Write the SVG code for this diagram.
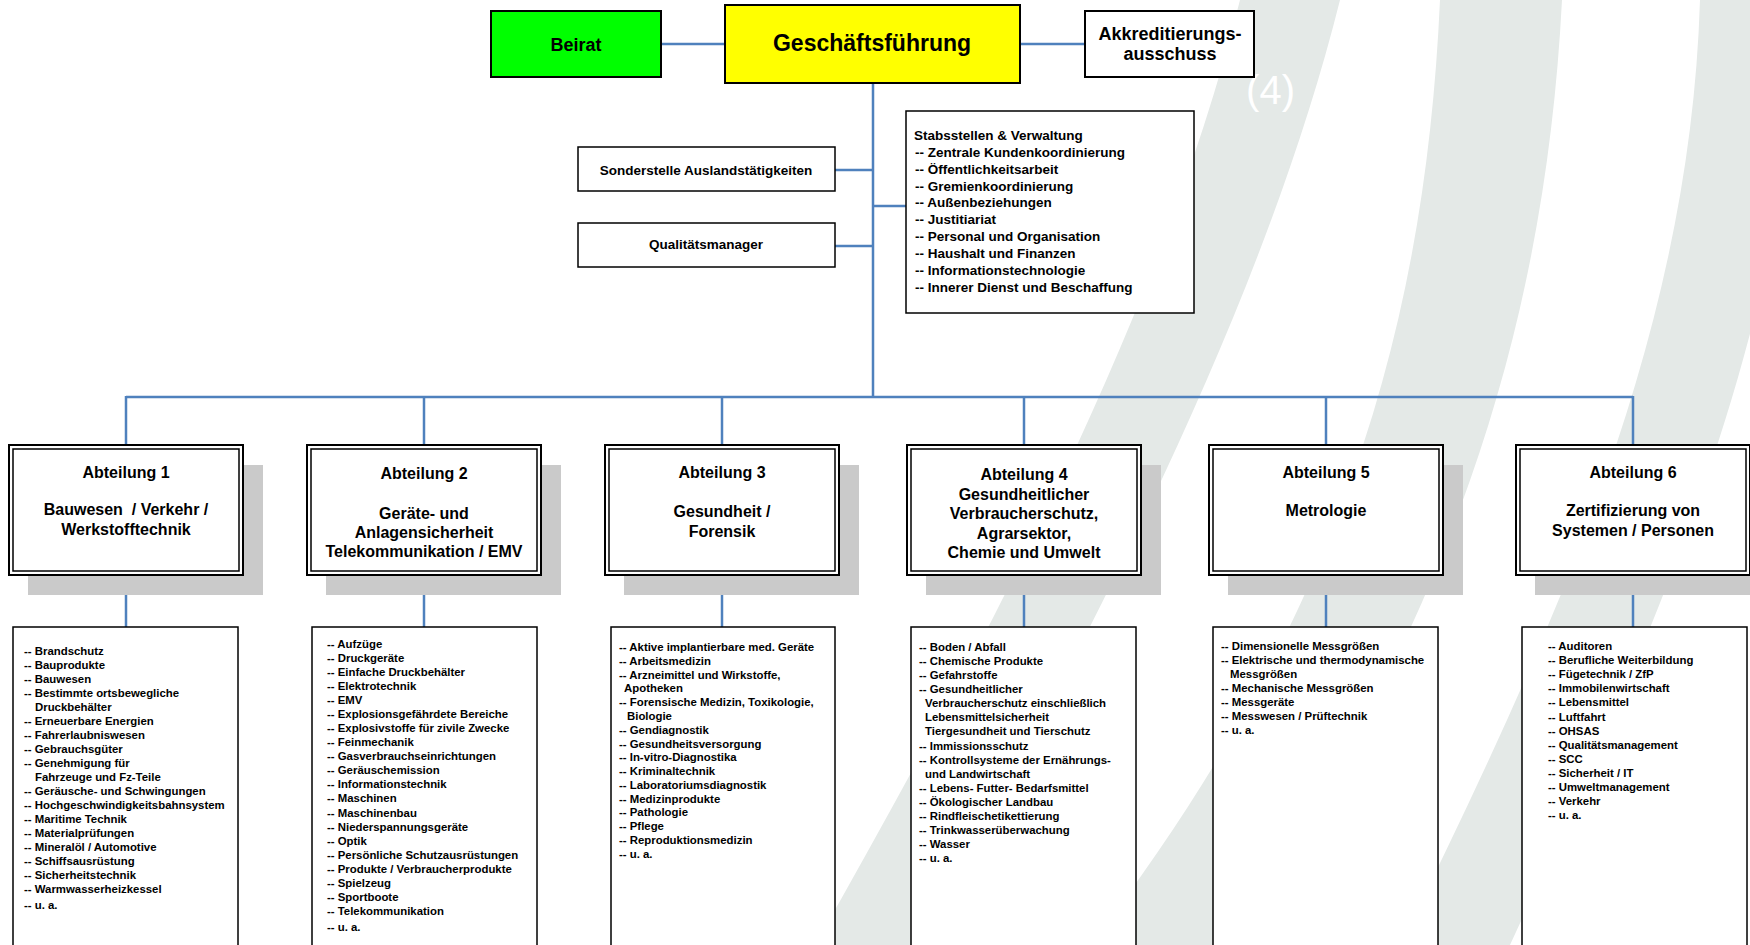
<svg xmlns="http://www.w3.org/2000/svg" width="1750" height="945" viewBox="0 0 1750 945">
<style>
text{font-family:"Liberation Sans",Arial,sans-serif;font-weight:bold;fill:#000}
.band{fill:#E4E9E7}
.conn{stroke:#4F81BD;stroke-width:2.5;fill:none}
.top{stroke:#000;stroke-width:2}
.box{fill:#fff;stroke:#000;stroke-width:1.5}
.shadow{fill:#CACACA}
.outer{fill:#fff;stroke:#000;stroke-width:2}
.inner{fill:none;stroke:#000;stroke-width:1.5}
.t18{font-size:18px;text-anchor:middle}
.t23{font-size:23px;text-anchor:middle}
.t135{font-size:13.5px}
.mid{text-anchor:middle}
.abt{font-size:16px;text-anchor:middle;white-space:pre}
.li{font-size:11.4px}
.wm{font-family:"Liberation Sans",Arial,sans-serif;font-weight:normal;font-size:40px;fill:#fff}
</style>
<rect width="1750" height="945" fill="#fff"/>
<g id="background">
<path class="band" d="M1240,0 C1165,300 1000,620 815,945 L920,945 C1100,620 1265,300 1340,0 Z"/>
<path class="band" d="M1440,0 C1425,330 1340,620 1090,945 L1230,945 C1450,620 1545,330 1562,0 Z"/>
<path class="band" d="M1700,0 C1690,330 1560,620 1400,945 L1510,945 C1660,620 1790,330 1800,0 Z"/>
<text class="wm" x="1295" y="104" text-anchor="end">(4)</text>
</g>
<g id="connectors">
<line class="conn" x1="661" y1="44" x2="725" y2="44"/>
<line class="conn" x1="1020" y1="44" x2="1085" y2="44"/>
<line class="conn" x1="873" y1="83" x2="873" y2="397"/>
<line class="conn" x1="835" y1="170" x2="873" y2="170"/>
<line class="conn" x1="835" y1="246" x2="873" y2="246"/>
<line class="conn" x1="873" y1="206" x2="906" y2="206"/>
<line class="conn" x1="126" y1="397" x2="1633" y2="397"/>
<line class="conn" x1="126" y1="396" x2="126" y2="445"/>
<line class="conn" x1="424" y1="396" x2="424" y2="445"/>
<line class="conn" x1="722" y1="396" x2="722" y2="445"/>
<line class="conn" x1="1024" y1="396" x2="1024" y2="445"/>
<line class="conn" x1="1326" y1="396" x2="1326" y2="445"/>
<line class="conn" x1="1633" y1="396" x2="1633" y2="445"/>
<line class="conn" x1="126" y1="575" x2="126" y2="627"/>
<line class="conn" x1="424" y1="575" x2="424" y2="627"/>
<line class="conn" x1="722" y1="575" x2="722" y2="627"/>
<line class="conn" x1="1024" y1="575" x2="1024" y2="627"/>
<line class="conn" x1="1326" y1="575" x2="1326" y2="627"/>
<line class="conn" x1="1633" y1="575" x2="1633" y2="627"/>
</g>
<g id="beirat">
<rect class="top" x="491" y="11" width="170" height="66" fill="#00FF00"/>
<text class="t18" x="576" y="50.5">Beirat</text>
</g>
<g id="geschaeftsfuehrung">
<rect class="top" x="725" y="5" width="295" height="78" fill="#FFFF00"/>
<text class="t23" x="872" y="51">Geschäftsführung</text>
</g>
<g id="akkreditierungsausschuss">
<rect class="top" x="1085" y="11" width="169" height="66" fill="#fff"/>
<text class="t18" x="1170" y="39.5">Akkreditierungs-</text>
<text class="t18" x="1170" y="60">ausschuss</text>
</g>
<g id="sonderstelle">
<rect class="box" x="578" y="147" width="257" height="44"/>
<text class="t135 mid" x="706" y="175">Sonderstelle Auslandstätigkeiten</text>
</g>
<g id="qualitaetsmanager">
<rect class="box" x="578" y="223" width="257" height="44"/>
<text class="t135 mid" x="706" y="249">Qualitätsmanager</text>
</g>
<g id="stabsstellen">
<rect class="box" x="906" y="111" width="288" height="202"/>
<text class="t135">
<tspan x="914" y="140">Stabsstellen &amp; Verwaltung</tspan>
<tspan x="915" y="156.9">-- Zentrale Kundenkoordinierung</tspan>
<tspan x="915" y="173.7">-- Öffentlichkeitsarbeit</tspan>
<tspan x="915" y="190.6">-- Gremienkoordinierung</tspan>
<tspan x="915" y="207.4">-- Außenbeziehungen</tspan>
<tspan x="915" y="224.3">-- Justitiariat</tspan>
<tspan x="915" y="241.1">-- Personal und Organisation</tspan>
<tspan x="915" y="258">-- Haushalt und Finanzen</tspan>
<tspan x="915" y="274.8">-- Informationstechnologie</tspan>
<tspan x="915" y="291.7">-- Innerer Dienst und Beschaffung</tspan>
</text>
</g>
<g id="abteilung1">
<rect class="shadow" x="28" y="465" width="235" height="130"/>
<rect class="outer" x="9" y="445" width="234" height="130"/>
<rect class="inner" x="13" y="449" width="226" height="122"/>
<text class="abt" x="126" y="478">Abteilung 1</text>
<text class="abt" x="126" y="515">Bauwesen  / Verkehr /</text>
<text class="abt" x="126" y="535">Werkstofftechnik</text>
</g>
<g id="abteilung2">
<rect class="shadow" x="326" y="465" width="235" height="130"/>
<rect class="outer" x="307" y="445" width="234" height="130"/>
<rect class="inner" x="311" y="449" width="226" height="122"/>
<text class="abt" x="424" y="479">Abteilung 2</text>
<text class="abt" x="424" y="519">Geräte- und</text>
<text class="abt" x="424" y="538">Anlagensicherheit</text>
<text class="abt" x="424" y="557">Telekommunikation / EMV</text>
</g>
<g id="abteilung3">
<rect class="shadow" x="624" y="465" width="235" height="130"/>
<rect class="outer" x="605" y="445" width="234" height="130"/>
<rect class="inner" x="609" y="449" width="226" height="122"/>
<text class="abt" x="722" y="478">Abteilung 3</text>
<text class="abt" x="722" y="517">Gesundheit /</text>
<text class="abt" x="722" y="537">Forensik</text>
</g>
<g id="abteilung4">
<rect class="shadow" x="926" y="465" width="235" height="130"/>
<rect class="outer" x="907" y="445" width="234" height="130"/>
<rect class="inner" x="911" y="449" width="226" height="122"/>
<text class="abt" x="1024" y="480">Abteilung 4</text>
<text class="abt" x="1024" y="499.5">Gesundheitlicher</text>
<text class="abt" x="1024" y="519">Verbraucherschutz,</text>
<text class="abt" x="1024" y="538.5">Agrarsektor,</text>
<text class="abt" x="1024" y="558">Chemie und Umwelt</text>
</g>
<g id="abteilung5">
<rect class="shadow" x="1228" y="465" width="235" height="130"/>
<rect class="outer" x="1209" y="445" width="234" height="130"/>
<rect class="inner" x="1213" y="449" width="226" height="122"/>
<text class="abt" x="1326" y="478">Abteilung 5</text>
<text class="abt" x="1326" y="516">Metrologie</text>
</g>
<g id="abteilung6">
<rect class="shadow" x="1535" y="465" width="235" height="130"/>
<rect class="outer" x="1516" y="445" width="234" height="130"/>
<rect class="inner" x="1520" y="449" width="226" height="122"/>
<text class="abt" x="1633" y="478">Abteilung 6</text>
<text class="abt" x="1633" y="516">Zertifizierung von</text>
<text class="abt" x="1633" y="536">Systemen / Personen</text>
</g>
<g id="liste1">
<rect class="box" x="13" y="627" width="225" height="340"/>
<text class="li">
<tspan x="24" y="655">-- Brandschutz</tspan>
<tspan x="24" y="669">-- Bauprodukte</tspan>
<tspan x="24" y="683">-- Bauwesen</tspan>
<tspan x="24" y="697">-- Bestimmte ortsbewegliche</tspan>
<tspan x="35" y="711">Druckbehälter</tspan>
<tspan x="24" y="725">-- Erneuerbare Energien</tspan>
<tspan x="24" y="739">-- Fahrerlaubniswesen</tspan>
<tspan x="24" y="753">-- Gebrauchsgüter</tspan>
<tspan x="24" y="767">-- Genehmigung für</tspan>
<tspan x="35" y="781">Fahrzeuge und Fz-Teile</tspan>
<tspan x="24" y="795">-- Geräusche- und Schwingungen</tspan>
<tspan x="24" y="809">-- Hochgeschwindigkeitsbahnsystem</tspan>
<tspan x="24" y="823">-- Maritime Technik</tspan>
<tspan x="24" y="837">-- Materialprüfungen</tspan>
<tspan x="24" y="851">-- Mineralöl / Automotive</tspan>
<tspan x="24" y="865">-- Schiffsausrüstung</tspan>
<tspan x="24" y="879">-- Sicherheitstechnik</tspan>
<tspan x="24" y="893">-- Warmwasserheizkessel</tspan>
<tspan x="24" y="909">-- u. a.</tspan>
</text>
</g>
<g id="liste2">
<rect class="box" x="312" y="627" width="225" height="340"/>
<text class="li">
<tspan x="327" y="648">-- Aufzüge</tspan>
<tspan x="327" y="662">-- Druckgeräte</tspan>
<tspan x="327" y="676.1">-- Einfache Druckbehälter</tspan>
<tspan x="327" y="690.1">-- Elektrotechnik</tspan>
<tspan x="327" y="704.2">-- EMV</tspan>
<tspan x="327" y="718.2">-- Explosionsgefährdete Bereiche</tspan>
<tspan x="327" y="732.2">-- Explosivstoffe für zivile Zwecke</tspan>
<tspan x="327" y="746.3">-- Feinmechanik</tspan>
<tspan x="327" y="760.3">-- Gasverbrauchseinrichtungen</tspan>
<tspan x="327" y="774.4">-- Geräuschemission</tspan>
<tspan x="327" y="788.4">-- Informationstechnik</tspan>
<tspan x="327" y="802.4">-- Maschinen</tspan>
<tspan x="327" y="816.5">-- Maschinenbau</tspan>
<tspan x="327" y="830.5">-- Niederspannungsgeräte</tspan>
<tspan x="327" y="844.6">-- Optik</tspan>
<tspan x="327" y="858.6">-- Persönliche Schutzausrüstungen</tspan>
<tspan x="327" y="872.6">-- Produkte / Verbraucherprodukte</tspan>
<tspan x="327" y="886.7">-- Spielzeug</tspan>
<tspan x="327" y="900.7">-- Sportboote</tspan>
<tspan x="327" y="914.8">-- Telekommunikation</tspan>
<tspan x="327" y="931">-- u. a.</tspan>
</text>
</g>
<g id="liste3">
<rect class="box" x="611" y="627" width="224" height="340"/>
<text class="li">
<tspan x="619" y="651">-- Aktive implantierbare med. Geräte</tspan>
<tspan x="619" y="664.8">-- Arbeitsmedizin</tspan>
<tspan x="619" y="678.6">-- Arzneimittel und Wirkstoffe,</tspan>
<tspan x="624" y="692.3">Apotheken</tspan>
<tspan x="619" y="706.1">-- Forensische Medizin, Toxikologie,</tspan>
<tspan x="627" y="719.9">Biologie</tspan>
<tspan x="619" y="733.7">-- Gendiagnostik</tspan>
<tspan x="619" y="747.5">-- Gesundheitsversorgung</tspan>
<tspan x="619" y="761.2">-- In-vitro-Diagnostika</tspan>
<tspan x="619" y="775">-- Kriminaltechnik</tspan>
<tspan x="619" y="788.8">-- Laboratoriumsdiagnostik</tspan>
<tspan x="619" y="802.6">-- Medizinprodukte</tspan>
<tspan x="619" y="816.4">-- Pathologie</tspan>
<tspan x="619" y="830.1">-- Pflege</tspan>
<tspan x="619" y="843.9">-- Reproduktionsmedizin</tspan>
<tspan x="619" y="857.7">-- u. a.</tspan>
</text>
</g>
<g id="liste4">
<rect class="box" x="911" y="627" width="225" height="340"/>
<text class="li">
<tspan x="919" y="651">-- Boden / Abfall</tspan>
<tspan x="919" y="665.1">-- Chemische Produkte</tspan>
<tspan x="919" y="679.1">-- Gefahrstoffe</tspan>
<tspan x="919" y="693.2">-- Gesundheitlicher</tspan>
<tspan x="925" y="707.3">Verbraucherschutz einschließlich</tspan>
<tspan x="925" y="721.4">Lebensmittelsicherheit</tspan>
<tspan x="925" y="735.4">Tiergesundheit und Tierschutz</tspan>
<tspan x="919" y="749.5">-- Immissionsschutz</tspan>
<tspan x="919" y="763.6">-- Kontrollsysteme der Ernährungs-</tspan>
<tspan x="925" y="777.6">und Landwirtschaft</tspan>
<tspan x="919" y="791.7">-- Lebens- Futter- Bedarfsmittel</tspan>
<tspan x="919" y="805.8">-- Ökologischer Landbau</tspan>
<tspan x="919" y="819.8">-- Rindfleischetikettierung</tspan>
<tspan x="919" y="833.9">-- Trinkwasserüberwachung</tspan>
<tspan x="919" y="848">-- Wasser</tspan>
<tspan x="919" y="862">-- u. a.</tspan>
</text>
</g>
<g id="liste5">
<rect class="box" x="1213" y="627" width="225" height="340"/>
<text class="li">
<tspan x="1221" y="650">-- Dimensionelle Messgrößen</tspan>
<tspan x="1221" y="664.1">-- Elektrische und thermodynamische</tspan>
<tspan x="1230" y="678.1">Messgrößen</tspan>
<tspan x="1221" y="692.2">-- Mechanische Messgrößen</tspan>
<tspan x="1221" y="706.3">-- Messgeräte</tspan>
<tspan x="1221" y="720.4">-- Messwesen / Prüftechnik</tspan>
<tspan x="1221" y="734.4">-- u. a.</tspan>
</text>
</g>
<g id="liste6">
<rect class="box" x="1522" y="627" width="225" height="340"/>
<text class="li">
<tspan x="1548" y="650">-- Auditoren</tspan>
<tspan x="1548" y="664.1">-- Berufliche Weiterbildung</tspan>
<tspan x="1548" y="678.2">-- Fügetechnik / ZfP</tspan>
<tspan x="1548" y="692.3">-- Immobilenwirtschaft</tspan>
<tspan x="1548" y="706.4">-- Lebensmittel</tspan>
<tspan x="1548" y="720.5">-- Luftfahrt</tspan>
<tspan x="1548" y="734.6">-- OHSAS</tspan>
<tspan x="1548" y="748.7">-- Qualitätsmanagement</tspan>
<tspan x="1548" y="762.8">-- SCC</tspan>
<tspan x="1548" y="776.9">-- Sicherheit / IT</tspan>
<tspan x="1548" y="791">-- Umweltmanagement</tspan>
<tspan x="1548" y="805.1">-- Verkehr</tspan>
<tspan x="1548" y="819.2">-- u. a.</tspan>
</text>
</g>
</svg>
